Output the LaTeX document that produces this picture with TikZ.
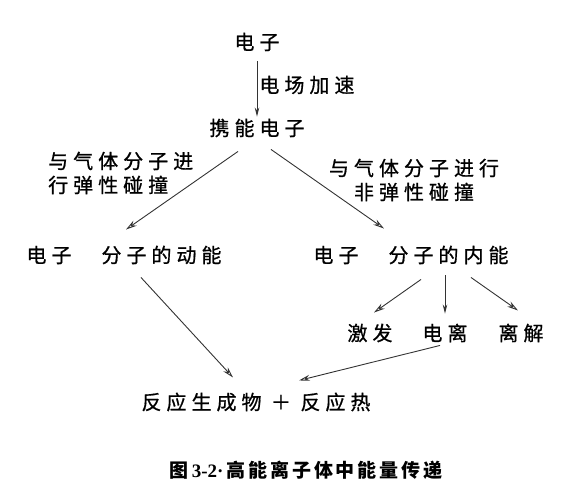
\documentclass[tikz,border=0pt]{standalone}
\usepackage{fontspec}
\newfontfamily\cjk[LetterSpace=25,FakeBold=0.8]{Noto Sans CJK SC}
\newfontfamily\cjkcap[LetterSpace=15]{Noto Sans CJK SC}
\newfontfamily\capserif{Liberation Serif}
\usetikzlibrary{arrows.meta}

\begin{document}
\begin{tikzpicture}[x=1pt,y=1pt]
    % settings
    \tikzset{
      every node/.style={font=\cjk\fontsize{20}{24}\selectfont, inner sep=2pt},
      line/.style={draw=black!80, line width=0.9pt},
      solid tip/.style={line, -{Stealth[length=9pt,width=4.5pt]}},
      open tip/.style={line, -{Stealth[open,length=11pt,width=6pt]}},
    }
    \useasboundingbox (0,0) rectangle (573,-495);

    % nodes
    \node (e0) at (257,-42) {电子};
    \node (ee) at (257,-128) {携能电子};
    \node (r1) at (124,-255) {电子　分子的动能};
    \node (r2) at (411,-255) {电子　分子的内能};
    \node (j1) at (370,-333) {激发};
    \node (j2) at (445,-333) {电离};
    \node (j3) at (521,-333) {离解};
    \node (p) at (256,-402) {反应生成物 ＋ 反应热};

    % collision labels
    \node[align=left, anchor=west] (c1) at (46,-173) {与气体分子进\\行弹性碰撞};
    \node[align=center] (c2) at (414,-180) {与气体分子进行\\非弹性碰撞};

    % caption
    \node[font=\cjkcap\bfseries\fontsize{19}{23}\selectfont] (cap) at (306,-470)
      {图\,{\capserif 3-2·}\,高能离子体中能量传递};

    % arrows
    \draw (e0) edge[solid tip, shorten <=8pt] node[right]{电场加速} (ee)
          ([xshift=-19pt,yshift=-12pt]ee.south) edge[open tip] ([xshift=2pt,yshift=14pt]r1.north)
          ([xshift=14pt,yshift=-10pt]ee.south) edge[open tip] ([xshift=-27pt,yshift=15pt]r2.north)
          ([xshift=10pt,yshift=-13pt]r2.south) edge[open tip] ([xshift=4pt,yshift=9pt]j1.north)
          ([yshift=-9pt]r2.south -| j2.north) edge[solid tip] ([yshift=8pt]j2.north)
          ([xshift=60pt,yshift=-11pt]r2.south) edge[open tip] ([xshift=-3pt,yshift=11pt]j3.north)
          ([xshift=17pt,yshift=-11pt]r1.south) edge[open tip] ([xshift=-23pt,yshift=13pt]p.north)
          ([xshift=-5pt,yshift=-1pt]j2.south) edge[open tip] ([xshift=43pt,yshift=10pt]p.north);

  \end{tikzpicture}
\end{document}
